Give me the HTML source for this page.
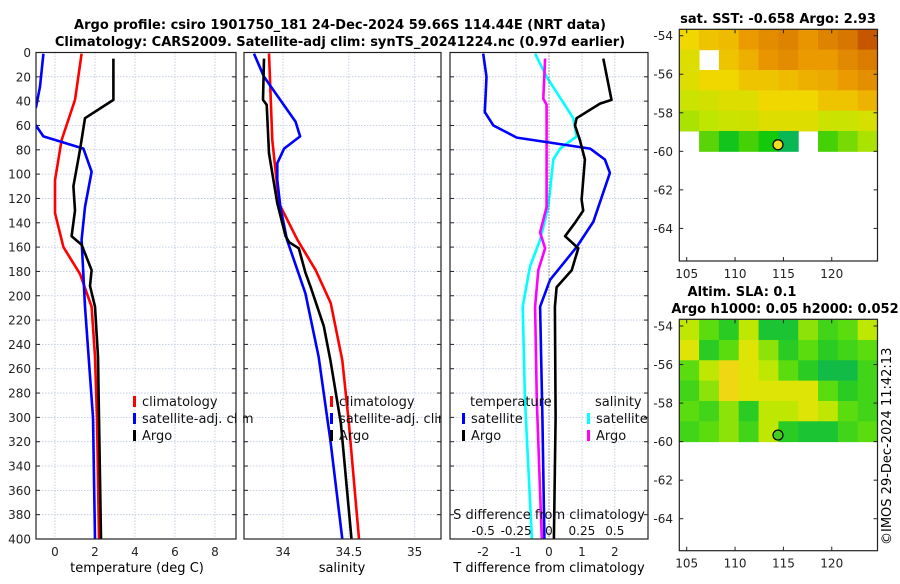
<!DOCTYPE html>
<html><head><meta charset="utf-8">
<style>
body{margin:0;background:#fff;width:900px;height:580px;overflow:hidden;font-family:"DejaVu Sans","Liberation Sans",sans-serif}
svg text{font-family:"DejaVu Sans","Liberation Sans",sans-serif}
</style></head><body>
<svg id="chart" width="900" height="580" xmlns="http://www.w3.org/2000/svg">
<text x="340" y="29" text-anchor="middle" font-size="13" font-weight="bold">Argo profile: csiro 1901750_181 24-Dec-2024 59.66S 114.44E (NRT data)</text>
<text x="340" y="46" text-anchor="middle" font-size="13" font-weight="bold">Climatology: CARS2009. Satellite-adj clim: synTS_20241224.nc (0.97d earlier)</text>
<text x="778" y="23" text-anchor="middle" font-size="13" font-weight="bold">sat. SST: -0.658 Argo: 2.93</text>
<text x="742" y="296" text-anchor="middle" font-size="13" font-weight="bold">Altim. SLA: 0.1</text>
<text x="785" y="313" text-anchor="middle" font-size="13" font-weight="bold">Argo h1000: 0.05 h2000: 0.052</text>
<text transform="translate(891,545) rotate(-90)" font-size="13">©IMOS 29-Dec-2024 11:42:13</text>
<text x="137" y="572" text-anchor="middle" font-size="13">temperature (deg C)</text>
<text x="342" y="572" text-anchor="middle" font-size="13">salinity</text>
<text x="549" y="572" text-anchor="middle" font-size="13">T difference from climatology</text>
</svg>
<script>
// ---------- data ----------
const depthTicks=[0,20,40,60,80,100,120,140,160,180,200,220,240,260,280,300,320,340,360,380,400];
const tempTicks=[0,2,4,6,8];
const salTicks=[34,34.5,35];
const salTickLabels=["34","34.5","35"];
const tdiffTicks=[-2,-1,0,1,2];
const sdiffTicks=[-0.5,-0.25,0,0.25,0.5];
const sdiffTickLabels=["-0.5","-0.25","0","0.25","0.5"];

const tClimDepth=[1,39,72,105,132,160,182,209,250,300,400];
const tClimVal=[1.33,1.0,0.33,0.0,0.0,0.42,1.25,1.83,2.0,2.1,2.2];
const tSatDepth=[1,28,45,52,60,69,79,98,127,154,209,300,400];
const tSatVal=[-0.58,-0.75,-0.95,-1.3,-0.95,-0.58,1.42,1.83,1.5,1.33,1.5,1.9,2.0];
const tArgoDepth=[5,39,54,80,110,130,151,158,179,192,209,250,300,400];
const tArgoVal=[2.92,2.92,1.5,1.25,0.92,1.0,0.83,1.33,1.83,1.75,2.0,2.15,2.2,2.3];

const sClimDepth=[0.7,72,124,154,179,206,253,305,400];
const sClimVal=[33.894,33.919,33.97,34.109,34.248,34.362,34.45,34.5,34.577];
const sSatDepth=[1,20,57,69,79,91,105,127,154,198,250,319,400];
const sSatVal=[33.78,33.856,34.096,34.13,34.008,33.957,33.957,33.98,34.03,34.17,34.27,34.36,34.45];
const sArgoDepth=[5,39,43,83,124,151,156,161,181,193,225,253,305,400];
const sArgoVal=[33.856,33.848,33.876,33.894,33.957,34.02,34.046,34.12,34.17,34.21,34.31,34.36,34.44,34.52];

const dTSatDepth=[1,20,49,60,70,79,88,99,139,160,187,209,300,400];
const dTSatVal=[-2.0,-1.9,-1.95,-1.69,-0.98,1.25,1.70,1.85,1.35,0.84,0.03,-0.27,-0.2,-0.14];
const dTArgoDepth=[5,39,42,54,60,72,88,121,130,140,151,161,179,193,209,300,400];
const dTArgoVal=[1.65,1.9,1.55,0.84,0.79,0.94,1.09,0.99,1.04,0.79,0.49,0.89,0.69,0.23,0.18,0.2,0.15];
const dSSatDepth=[1,20,54,69,79,88,127,154,176,209,286,400];
const dSSatVal=[-0.106,-0.018,0.185,0.21,0.084,0.033,-0.005,-0.068,-0.144,-0.2,-0.182,-0.13];
const dSArgoDepth=[5,38,43,127,148,161,179,209,286,400];
const dSArgoVal=[-0.03,-0.043,-0.018,-0.018,-0.068,-0.03,-0.081,-0.106,-0.093,-0.055];

const sstGrid=[
[0.55,0.6,0.62,0.7,0.75,0.78,0.72,0.78,0.82,0.9],
[0.5,null,0.6,0.65,0.72,0.75,0.7,0.7,0.76,0.8],
[0.5,0.55,0.55,0.6,0.6,0.62,0.65,0.66,0.7,0.74],
[0.45,0.47,0.5,0.5,0.55,0.55,0.55,0.6,0.6,0.64],
[0.4,0.42,0.45,0.46,0.5,0.5,0.5,0.45,0.45,0.48],
[null,0.32,0.22,0.3,0.25,0.12,null,0.3,0.35,0.4]];
const slaGrid=[
[0.8,0.6,0.4,0.8,0.3,0.3,0.7,0.5,0.6,0.8],
[0.9,0.4,0.6,0.9,0.7,0.4,0.6,0.4,0.5,0.6],
[0.6,0.8,1.0,0.9,0.8,0.6,0.4,0.2,0.2,0.5],
[0.5,0.7,1.0,0.9,0.9,0.9,0.9,0.6,0.4,0.5],
[0.6,0.5,0.7,0.4,0.8,0.8,0.9,0.8,0.6,0.5],
[0.5,0.6,0.7,0.5,0.8,0.4,0.3,0.3,0.5,0.6]];
const mapLatTicks=[-54,-56,-58,-60,-62,-64];
const mapLonTicks=[105,110,115,120];
const argoLon=114.44, argoLat=-59.66;
const gridLonMin=104.23, gridLonMax=124.73, gridLatMax=-53.67, gridLatMin=-60;

// ---------- helpers ----------
const NS="http://www.w3.org/2000/svg";
const svg=document.getElementById('chart');
function mk(tag,attrs,parent){const e=document.createElementNS(NS,tag);for(const k in attrs)e.setAttribute(k,attrs[k]);(parent||svg).appendChild(e);return e;}
const Y0=52.5,Y1=539;
const yD=d=>Y0+(d/400)*(Y1-Y0);
const panels=[
 {x0:36,x1:236,f:v=>55+20*v,id:'temperature'},
 {x0:244,x1:441,f:v=>283+131.7*(v-34),id:'salinity'},
 {x0:450,x1:648,f:v=>549+32.9*v,id:'difference'}];
const fS=v=>549+131.6*v;

panels.forEach((p,i)=>{
  const g=mk('g',{});
  
  
  const cp=mk('clipPath',{id:'clip'+i},svg);
  mk('rect',{x:p.x0,y:Y0,width:p.x1-p.x0,height:Y1-Y0},cp);
  depthTicks.forEach(d=>{
    const l=mk('line',{x1:p.x0,x2:p.x1,y1:yD(d),y2:yD(d),stroke:'#b8c4e0','stroke-width':0.8,'stroke-dasharray':'1.5,1.5'},g);
    
    
    mk('line',{x1:p.x0,x2:p.x0+4,y1:yD(d),y2:yD(d),stroke:'#222'},g);
    mk('line',{x1:p.x1,x2:p.x1-4,y1:yD(d),y2:yD(d),stroke:'#222'},g);
  });
  const ticks=i==0?tempTicks:i==1?salTicks:tdiffTicks;
  ticks.forEach((t,k)=>{
    const x=p.f(t);
    const l=mk('line',{x1:x,x2:x,y1:Y0,y2:Y1,stroke:'#b8c4e0','stroke-width':0.8,'stroke-dasharray':'1.5,1.5'},g);
    
    
    const tx=mk('text',{x:x,y:556,'text-anchor':'middle','font-size':12,fill:'#222'},g);
    tx.textContent=i==1?salTickLabels[k]:String(t);
    
    
  });
  p.g=g;p.clip='url(#clip'+i+')';
});
depthTicks.forEach(d=>{
  const t=mk('text',{x:31,y:yD(d)+4.5,'text-anchor':'end','font-size':12,fill:'#222'});
  t.textContent=d;
  
  
});
const zl=mk('line',{x1:fS(0),x2:fS(0),y1:Y0,y2:Y1,stroke:'#555','stroke-width':1,'stroke-dasharray':'1,2'});



function series(p,fx,depths,vals,color,name){
  const pts=depths.map((d,k)=>fx(vals[k]).toFixed(1)+','+yD(d).toFixed(1)).join(' ');
  const pl=mk('polyline',{points:pts,fill:'none',stroke:color,'stroke-width':2.6,'stroke-linejoin':'round','clip-path':p.clip},p.g);
  
  
}
series(panels[0],panels[0].f,tClimDepth,tClimVal,'#ff0000','temperature-climatology-line');
series(panels[0],panels[0].f,tSatDepth,tSatVal,'#0000ff','temperature-satellite-line');
series(panels[0],panels[0].f,tArgoDepth,tArgoVal,'#000','temperature-argo-line');
series(panels[1],panels[1].f,sClimDepth,sClimVal,'#ff0000','salinity-climatology-line');
series(panels[1],panels[1].f,sSatDepth,sSatVal,'#0000ff','salinity-satellite-line');
series(panels[1],panels[1].f,sArgoDepth,sArgoVal,'#000','salinity-argo-line');
series(panels[2],fS,dSSatDepth,dSSatVal,'#00ffff','salinity-diff-satellite-line');
series(panels[2],fS,dSArgoDepth,dSArgoVal,'#ff00ff','salinity-diff-argo-line');
series(panels[2],panels[2].f,dTSatDepth,dTSatVal,'#0000ff','temperature-diff-satellite-line');
series(panels[2],panels[2].f,dTArgoDepth,dTArgoVal,'#000','temperature-diff-argo-line');

const sl=mk('text',{x:549,y:519,'text-anchor':'middle','font-size':13,fill:'#111'});
sl.textContent='S difference from climatology';


sdiffTicks.forEach((t,k)=>{
  const tx=mk('text',{x:fS(t),y:535,'text-anchor':'middle','font-size':12,fill:'#111'});
  tx.textContent=sdiffTickLabels[k];
  
  
});

function legend(x,y,color,label,clip,name){
  const g=mk('g',{'clip-path':clip});
  
  
  mk('rect',{x:x,y:y-10,width:3,height:11,fill:color},g);
  const t=mk('text',{x:x+9,y:y,'font-size':13,fill:'#111'},g);
  t.textContent=label;
}
[[0,'#ff0000','climatology'],[1,'#0000ff','satellite-adj. clim'],[2,'#000','Argo']].forEach((e,k)=>{
  legend(133,406+k*17,e[1],e[2],'','legend-temperature-'+k);
  legend(330,406+k*17,e[1],e[2],panels[1].clip,'legend-salinity-'+k);
});
const lt=mk('text',{x:470,y:406,'font-size':13,fill:'#111'});lt.textContent='temperature';

const ls=mk('text',{x:595,y:406,'font-size':13,fill:'#111'});ls.textContent='salinity';

legend(462,423,'#0000ff','satellite','','legend-diff-t-satellite');
legend(462,440,'#000','Argo','','legend-diff-t-argo');
legend(587,423,'#00ffff','satellite','','legend-diff-s-satellite');
legend(587,440,'#ff00ff','Argo','','legend-diff-s-argo');

panels.forEach(p=>{
  const r=mk('rect',{x:p.x0,y:Y0,width:p.x1-p.x0,height:Y1-Y0,fill:'none',stroke:'#222','stroke-width':1.2});
  
  
});
// cover legend overflow of panel 1 into gap
const gap=mk('rect',{x:237,y:390,width:6,height:60,fill:'#fff'});



function lerpC(stops,v){
  if(v<=stops[0][0])return 'rgb('+stops[0][1].join(',')+')';
  for(let i=1;i<stops.length;i++){if(v<=stops[i][0]){const a=stops[i-1],b=stops[i],t=(v-a[0])/(b[0]-a[0]);
    return 'rgb('+a[1].map((c,k)=>Math.round(c+(b[1][k]-c)*t)).join(',')+')';}}
  return 'rgb('+stops[stops.length-1][1].join(',')+')';
}
const sstStops=[[0,[0,170,150]],[0.25,[20,200,10]],[0.42,[190,230,0]],[0.55,[240,215,0]],[0.7,[235,155,0]],[0.88,[205,100,0]],[1,[160,25,0]]];
const slaStops=[[0,[0,170,110]],[0.35,[30,200,40]],[0.6,[90,220,15]],[0.85,[215,235,0]],[1,[240,215,20]]];
['sst','sla'].forEach((m,mi)=>{
  const fx0=679.3,fx1=877.5,fy0=mi?319.3:29.3,fy1=mi?550.7:261;
  const lonX=lon=>686.7+(lon-105)*9.67;
  const latY=lat=>(mi?326:35.7)+(-54-lat)*19.27;
  const g=mk('g',{});
  
  
  const grid=mi?slaGrid:sstGrid, stops=mi?slaStops:sstStops;
  const nr=grid.length,nc=grid[0].length;
  const gx0=lonX(gridLonMin),gx1=lonX(gridLonMax),gy0=latY(gridLatMax),gy1=latY(gridLatMin);
  const cw=(gx1-gx0)/nc,ch=(gy1-gy0)/nr;
  grid.forEach((row,r)=>row.forEach((v,c)=>{
    if(v===null)return;
    const cell=mk('rect',{x:gx0+c*cw,y:gy0+r*ch,width:cw+0.5,height:ch+0.5,fill:lerpC(stops,v)},g);
    
    
  }));
  const dot=mk('circle',{cx:lonX(argoLon),cy:latY(argoLat),r:5,fill:mi?'#44cc22':'#eedd22',stroke:'#000','stroke-width':1.2},g);
  
  
  mk('rect',{x:fx0,y:fy0,width:fx1-fx0,height:fy1-fy0,fill:'none',stroke:'#222','stroke-width':1.2},g);
  mapLatTicks.forEach(lat=>{
    const y=latY(lat);
    mk('line',{x1:fx0,x2:fx0+4,y1:y,y2:y,stroke:'#222'},g);
    mk('line',{x1:fx1,x2:fx1-4,y1:y,y2:y,stroke:'#222'},g);
    const t=mk('text',{x:673,y:y+4.5,'text-anchor':'end','font-size':12,fill:'#222'},g);
    t.textContent=lat;
    
    
  });
  mapLonTicks.forEach(lon=>{
    const x=lonX(lon);
    mk('line',{x1:x,x2:x,y1:fy1,y2:fy1-4,stroke:'#222'},g);
    mk('line',{x1:x,x2:x,y1:fy0,y2:fy0+4,stroke:'#222'},g);
    const t=mk('text',{x:x,y:fy1+17,'text-anchor':'middle','font-size':12,fill:'#222'},g);
    t.textContent=lon;
    
    
  });
});
</script>
</body></html>
